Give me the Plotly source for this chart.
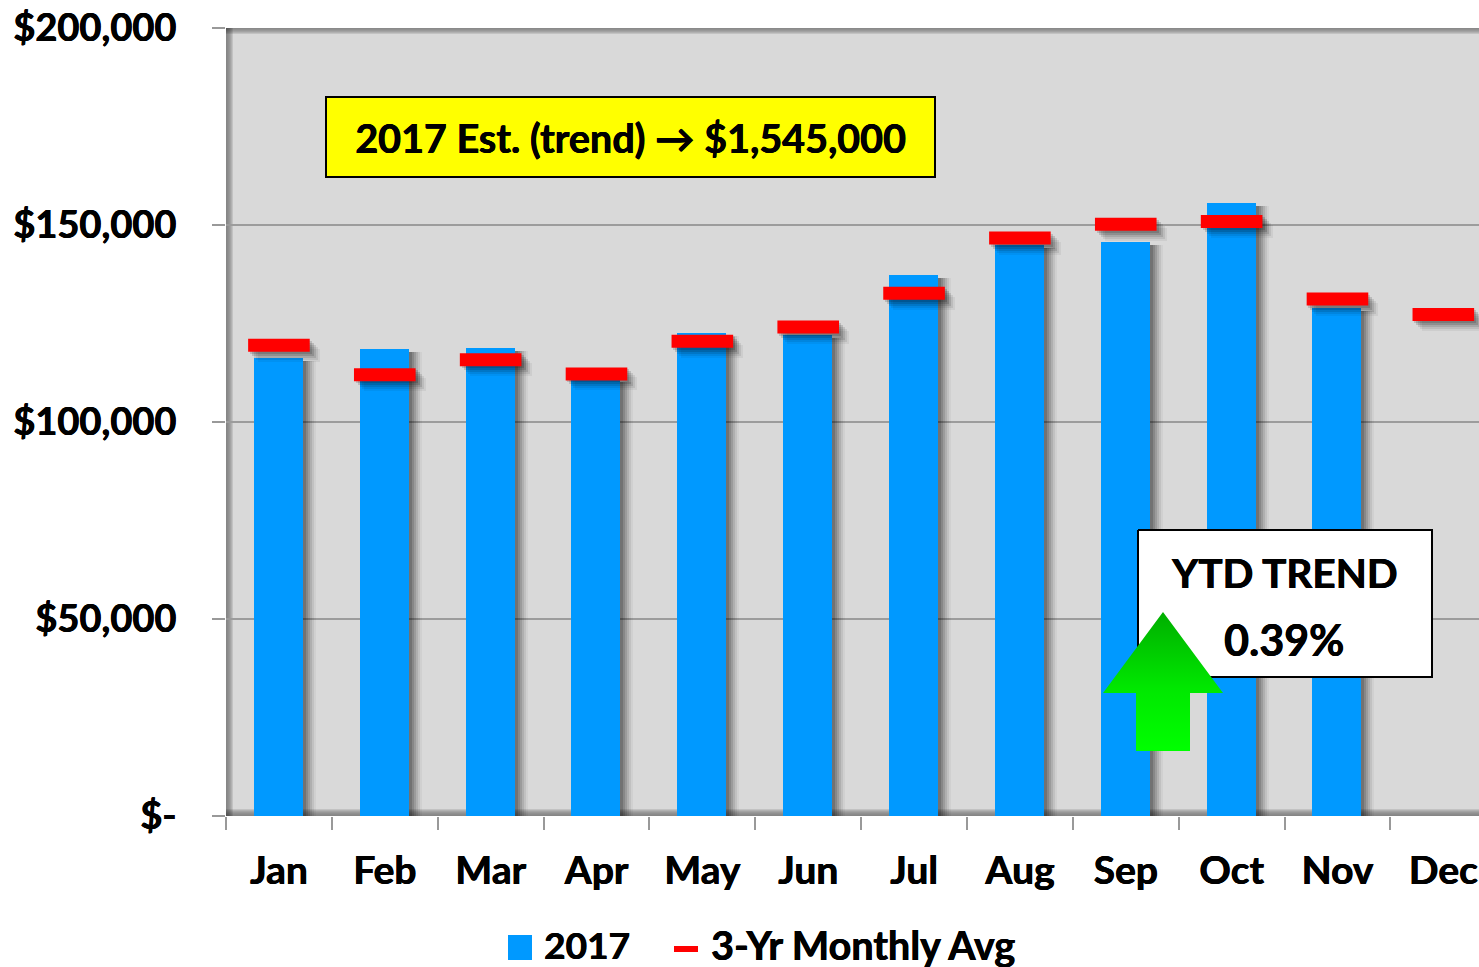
import plotly.graph_objects as go

months = ["Jan", "Feb", "Mar", "Apr", "May", "Jun", "Jul", "Aug", "Sep", "Oct", "Nov", "Dec"]
sales_2017 = [116200, 118500, 118800, 111000, 122600, 122000, 137300, 145000, 145700, 155600, 129000, None]
avg_3yr = [119500, 112000, 115800, 112200, 120500, 124100, 132700, 146700, 150200, 150900, 131200, 127300]
y_ticks = [0, 50000, 100000, 150000, 200000]
y_labels = ["$-", "$50,000", "$100,000", "$150,000", "$200,000"]

W, H = 1479, 967
L, T, B = 226, 28, 816
CAT = 105.85
FONT = "Lato, Carlito, 'Open Sans', sans-serif"
HEAVY = "0.5px 0 0 black, -0.2px 0 0 black"
BLUE, RED = "#0099FF", "#FF0000"

def px(x):
    return (x - L) / (W - L)

def py(y):
    return (B - y) / (B - T)

fig = go.Figure()

BAR_W = 49 / CAT
MARK_W = 62 / CAT
MARK_H = 13 / (B - T) * 200000
PX_Y = 200000 / (B - T)

# soft drop shadows of the columns
for d, a in [(13, .04), (11, .07), (9, .09), (7, .11), (5, .13), (3, .15)]:
    fig.add_trace(go.Bar(x=months, y=[None if v is None else v - 3 * PX_Y for v in sales_2017],
                         width=BAR_W, offset=-BAR_W / 2 - 0.5 / CAT + d / CAT,
                         marker=dict(color=f"rgba(0,0,0,{a})", line_width=0),
                         hoverinfo="skip", showlegend=False))
fig.add_trace(go.Bar(x=months, y=sales_2017, name="2017", width=BAR_W, offset=-BAR_W / 2 - 0.5 / CAT,
                     marker=dict(color=BLUE, line_width=0), showlegend=False))
# soft drop shadows of the average markers
for d, a in [(10, .05), (8, .08), (6, .11), (4, .14), (2, .14)]:
    fig.add_trace(go.Bar(x=months, y=[MARK_H] * 12,
                         base=[v - MARK_H / 2 - d * PX_Y for v in avg_3yr],
                         width=MARK_W, offset=-MARK_W / 2 + d / CAT,
                         marker=dict(color=f"rgba(0,0,0,{a})", line_width=0),
                         hoverinfo="skip", showlegend=False))
fig.add_trace(go.Scatter(x=months, y=avg_3yr, name="3-Yr Monthly Avg", mode="markers",
                         marker=dict(symbol="line-ew", size=44, color=RED,
                                     line=dict(color=RED, width=13)),
                         showlegend=False))

# overlay axes measured in picture pixels: call-out box and arrow sit above the columns
box_x = [1138, 1432, 1432, 1138, 1138]
box_y = [530, 530, 677, 677, 530]
fig.add_trace(go.Scatter(x=box_x, y=box_y, xaxis="x2", yaxis="y2", mode="lines", fill="toself",
                         fillcolor="white", line=dict(color="black", width=2),
                         hoverinfo="skip", showlegend=False))
arrow_x = [1163, 1223, 1190, 1190, 1136, 1136, 1103, 1163]
arrow_y = [612, 693, 693, 751, 751, 693, 693, 612]
fig.add_trace(go.Scatter(x=arrow_x, y=arrow_y, xaxis="x2", yaxis="y2", mode="none", fill="toself",
                         fillgradient=dict(type="vertical",
                                           colorscale=[[0, "#00FF00"], [0.45, "#00E800"], [1, "#00AE00"]]),
                         hoverinfo="skip", showlegend=False))

shapes = []
# inner shadow along the plot edges
for i in range(7):
    a = 0.10 - i * 0.012
    shapes.append(dict(type="rect", xref="paper", yref="paper", layer="below", line_width=0,
                       fillcolor=f"rgba(0,0,0,{a:.3f})",
                       x0=0, x1=px(L + 7 - i), y0=0, y1=1))
    shapes.append(dict(type="rect", xref="paper", yref="paper", layer="below", line_width=0,
                       fillcolor=f"rgba(0,0,0,{a:.3f})",
                       x0=0, x1=1, y0=py(T + 6 - i), y1=1))
    shapes.append(dict(type="rect", xref="paper", yref="paper", layer="below", line_width=0,
                       fillcolor=f"rgba(0,0,0,{a:.3f})",
                       x0=0, x1=1, y0=0, y1=py(B - 7 + i)))
# legend swatches
shapes.append(dict(type="rect", xref="paper", yref="paper", line_width=0, fillcolor=BLUE,
                   x0=px(508), x1=px(532), y0=py(960), y1=py(935)))
shapes.append(dict(type="rect", xref="paper", yref="paper", line_width=0, fillcolor=RED,
                   x0=px(674), x1=px(698), y0=py(952), y1=py(946)))

def note(text, x, y, size=38, anchor="center", **kw):
    return dict(text=f"<b>{text}</b>", xref="paper", yref="paper", x=px(x), y=py(y),
                xanchor=anchor, yanchor="middle", showarrow=False,
                font=dict(family=FONT, size=size, color="black", shadow=HEAVY), **kw)

annotations = [
    note("2017 Est. (trend) \u2192 $1,545,000", 630.5, 137, size=39.5,
         width=607, height=78, bgcolor="#FFFF00", bordercolor="black", borderwidth=2, borderpad=0),
    note("YTD TREND", 1284, 572.5, size=40.5),
    note("0.39%", 1284, 639, size=43),
    note("2017", 542, 944, size=37, anchor="left"),
    note("3-Yr Monthly Avg", 709, 944, size=39.5, anchor="left"),
]

tick_font = dict(family=FONT, size=38, weight="bold", shadow=HEAVY)

fig.update_layout(
    width=W, height=H, margin=dict(l=L, r=0, t=T, b=H - B, pad=0),
    paper_bgcolor="white", plot_bgcolor="#D9D9D9", barmode="overlay", bargap=0,
    showlegend=False, shapes=shapes, annotations=annotations,
    font=dict(family=FONT, color="black"),
    xaxis=dict(type="category", categoryorder="array", categoryarray=months,
               range=[-0.5, 11.337], tickson="boundaries", ticks="outside", ticklen=13,
               tickwidth=2, tickcolor="#999999", showgrid=False, zeroline=False,
               ticklabelstandoff=28, tickfont={**tick_font, "size": 39}),
    yaxis=dict(range=[0, 200000], tickvals=y_ticks, ticktext=y_labels, ticks="outside", ticklen=13,
               tickwidth=2, tickcolor="#999999", showgrid=True, gridcolor="#9C9C9C", gridwidth=2,
               zeroline=False, ticklabelstandoff=28, tickfont=tick_font),
    xaxis2=dict(overlaying="x", range=[L, W], visible=False, fixedrange=True, anchor="y2"),
    yaxis2=dict(overlaying="y", range=[B, T], visible=False, fixedrange=True, anchor="x2"),
)

fig.write_html("out.html", config={"displayModeBar": False},
               post_script="document.body.style.margin='0';document.body.style.overflow='hidden';")
